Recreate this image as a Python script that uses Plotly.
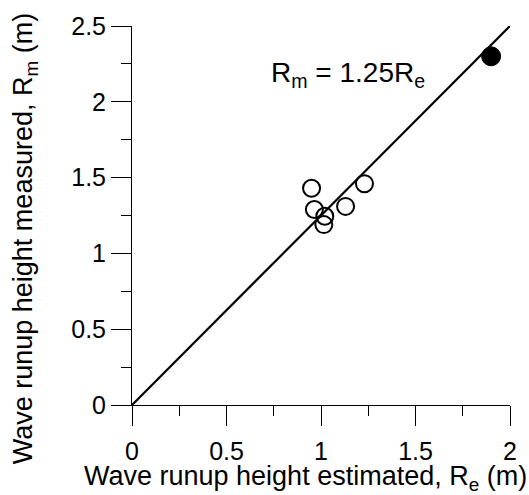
import plotly.graph_objects as go

# Open circles (data points)
est_open = [0.95, 1.23, 0.965, 1.13, 1.02, 1.015]
meas_open = [1.43, 1.46, 1.29, 1.31, 1.245, 1.19]
# Filled point
est_filled = [1.90]
meas_filled = [2.30]
# Fit line R_m = 1.25 R_e
fit_x = [0.0, 2.0]
fit_y = [0.0, 2.5]

x_ticks = [0, 0.5, 1, 1.5, 2]
x_labels = ["0", "0.5", "1", "1.5", "2"]
y_ticks = [0, 0.5, 1, 1.5, 2, 2.5]
y_labels = ["0", "0.5", "1", "1.5", "2", "2.5"]

FONT = "Liberation Sans, Arial, sans-serif"

fig = go.Figure()
fig.add_trace(go.Scatter(x=fit_x, y=fit_y, mode="lines",
                         line=dict(color="black", width=2.2), showlegend=False,
                         cliponaxis=False))
fig.add_trace(go.Scatter(x=est_open, y=meas_open, mode="markers",
                         marker=dict(size=17, color="rgba(0,0,0,0)",
                                     line=dict(color="black", width=2)),
                         showlegend=False))
fig.add_trace(go.Scatter(x=est_filled, y=meas_filled, mode="markers",
                         marker=dict(size=19, color="black",
                                     line=dict(color="black", width=1)),
                         showlegend=False, cliponaxis=False))

fig.add_annotation(x=1.145, y=2.18, xref="x", yref="y",
                   text="R<sub>m</sub> = 1.25R<sub>e</sub>", showarrow=False,
                   font=dict(size=28, color="black", family=FONT),
                   xanchor="center", yanchor="middle")

# Axis titles as annotations for exact placement
fig.add_annotation(x=0.458, y=-0.192, xref="paper", yref="paper",
                   text="Wave runup height estimated, R<sub>e</sub> (m)",
                   showarrow=False, font=dict(size=27, color="black", family=FONT),
                   xanchor="center", yanchor="middle")
fig.add_annotation(x=-0.284, y=0.439, xref="paper", yref="paper",
                   text="Wave runup height measured, R<sub>m</sub> (m)",
                   showarrow=False, textangle=-90,
                   font=dict(size=27, color="black", family=FONT),
                   xanchor="center", yanchor="middle")

axis_common = dict(showline=True, linecolor="black", linewidth=1,
                   ticks="outside", ticklen=20, tickwidth=1, tickcolor="black",
                   showgrid=False, zeroline=False, mirror=False,
                   tickfont=dict(size=25, color="black", family=FONT))

fig.update_xaxes(range=[0, 2], tickvals=x_ticks, ticktext=x_labels,
                 ticklabelstandoff=4,
                 minor=dict(ticks="outside", ticklen=10, dtick=0.25, tick0=0,
                            tickcolor="black", tickwidth=1, showgrid=False),
                 **axis_common)
fig.update_yaxes(range=[0, 2.5], tickvals=y_ticks, ticktext=y_labels,
                 minor=dict(ticks="outside", ticklen=10, dtick=0.25, tick0=0,
                            tickcolor="black", tickwidth=1, showgrid=False),
                 **axis_common)

fig.update_layout(width=529, height=495,
                  margin=dict(l=132, r=13, t=20, b=90),
                  paper_bgcolor="white", plot_bgcolor="white",
                  font=dict(family=FONT, color="black"))

fig.write_html("out.html")
